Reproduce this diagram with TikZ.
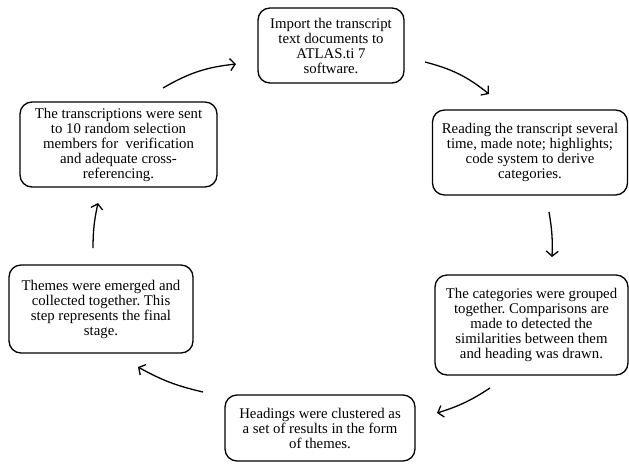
\documentclass[tikz,border=0pt]{standalone}
\usepackage{fontspec}
\setmainfont{Liberation Serif}
\usetikzlibrary{arrows.meta}
\begin{document}
\frenchspacing
\begin{tikzpicture}[x=1pt,y=-1pt,
  stepbox/.style={draw=black, line width=1.3pt, rounded corners=12pt, align=center,
    inner sep=0pt, font=\fontsize{14.8}{15}\selectfont},
  flow/.style={line width=1.3pt, -{Straight Barb[length=5pt,width=12pt,line width=1.3pt]}}]
\useasboundingbox[fill=white] (0,0) rectangle (629,464);
\node[stepbox, minimum width=146pt, minimum height=75pt] (b1) at (331,45.5)
  {Import the transcript\\text documents to\\ATLAS.ti 7\\software.};
\node[stepbox, minimum width=195pt, minimum height=85pt] (b2) at (530,152.5)
  {Reading the transcript several\\time, made note; highlights;\\code system to derive\\categories.};
\node[stepbox, minimum width=193pt, minimum height=100pt] (b3) at (531.5,325)
  {The categories were grouped\\together. Comparisons are\\made to detected the\\similarities between them\\and heading was drawn.};
\node[stepbox, minimum width=190pt, minimum height=66pt] (b4) at (320,428)
  {Headings were clustered as\\a set of results in the form\\of themes.};
\node[stepbox, minimum width=184pt, minimum height=88pt] (b5) at (101,309)
  {Themes were emerged and\\collected together. This\\step represents the final\\stage.};
\node[stepbox, minimum width=197pt, minimum height=85pt] (b6) at (118.5,144.5)
  {The transcriptions were sent\\to 10 random selection\\members for\ \ verification\\and adequate cross-\\referencing.};
\coordinate (a1s) at (163,88);  \coordinate (a1e) at (236,64);
\coordinate (a2s) at (425,62);  \coordinate (a2e) at (489,94);
\coordinate (a3s) at (549,212); \coordinate (a3e) at (552,257);
\coordinate (a4s) at (490,388); \coordinate (a4e) at (437,413);
\coordinate (a5s) at (203,392); \coordinate (a5e) at (138,367);
\coordinate (a6s) at (93,248);  \coordinate (a6e) at (98,203);
\draw[flow] (a1s) to[bend left=12] (a1e);
\draw[flow] (a2s) to[bend left=12] (a2e);
\draw[flow] (a3s) to[bend left=6] (a3e);
\draw[flow] (a4s) to[bend left=8] (a4e);
\draw[flow] (a5s) to[bend left=8] (a5e);
\draw[flow] (a6s) to[bend left=6] (a6e);
\end{tikzpicture}
\end{document}
